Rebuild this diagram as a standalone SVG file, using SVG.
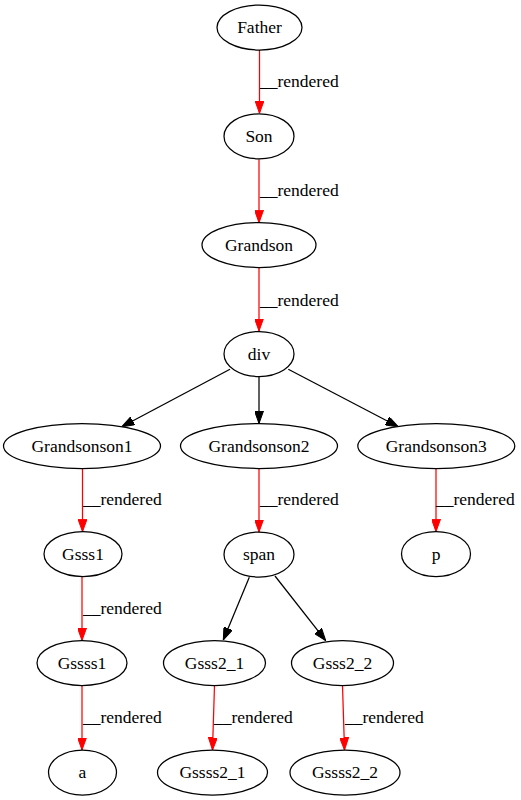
<svg xmlns="http://www.w3.org/2000/svg" width="521" height="800" viewBox="0 0 521 800">
<style>
.n ellipse{fill:#fff;stroke:#000;stroke-width:1.25}
text{font-family:"Liberation Serif","Times New Roman",serif;font-size:17.5px;fill:#000}
.n text{text-anchor:middle}
.e{fill:none;stroke-width:1.25}
.r{stroke:#f00;marker-end:url(#ar)}
.b{stroke:#000;marker-end:url(#ab)}
</style>
<defs>
<marker id="ar" markerUnits="userSpaceOnUse" viewBox="0 0 12.5 9" refX="12.5" refY="4.5" markerWidth="12.5" markerHeight="9" orient="auto"><path d="M0,0 L12.5,4.5 L0,9 z" fill="#f00" stroke="#f00" stroke-width="1"/></marker>
<marker id="ab" markerUnits="userSpaceOnUse" viewBox="0 0 12.5 9" refX="12.5" refY="4.5" markerWidth="12.5" markerHeight="9" orient="auto"><path d="M0,0 L12.5,4.5 L0,9 z" fill="#000" stroke="#000" stroke-width="1"/></marker>
</defs>
<rect width="521" height="800" fill="#fff"/>
<g id="connectors">
<path class="e r" d="M259.5,50 L259.5,113.3"/>
<path class="e r" d="M259,159.3 L259,222.7"/>
<path class="e r" d="M259,267.7 L259,331"/>
<path class="e b" d="M230,369.3 L121.7,426.7"/>
<path class="e b" d="M259,376.5 L259,423.5"/>
<path class="e b" d="M288.3,369.3 L398.3,426.7"/>
<path class="e r" d="M82.5,468.5 L82.5,531.7"/>
<path class="e r" d="M259,468.5 L259,532"/>
<path class="e r" d="M436,468.5 L436,531.7"/>
<path class="e r" d="M82,576.5 L82,640.5"/>
<path class="e b" d="M249.3,577.3 L223.3,640"/>
<path class="e b" d="M275,576 L325.7,640.7"/>
<path class="e r" d="M82,685 L82,750"/>
<path class="e r" d="M214.5,685 L212.5,750"/>
<path class="e r" d="M342.5,685 L344.5,750"/>
<text x="260" y="87">__rendered</text>
<text x="260" y="196">__rendered</text>
<text x="260" y="306">__rendered</text>
<text x="83" y="505">__rendered</text>
<text x="260" y="505">__rendered</text>
<text x="436" y="505">__rendered</text>
<text x="83" y="614">__rendered</text>
<text x="83" y="723">__rendered</text>
<text x="214" y="723">__rendered</text>
<text x="345" y="723">__rendered</text>
</g>
<g id="Father" class="n"><ellipse cx="259.5" cy="27.5" rx="42.5" ry="22.5"/><text x="259.5" y="33">Father</text></g>
<g id="Son" class="n"><ellipse cx="259" cy="136.3" rx="35" ry="22.5"/><text x="259" y="141.8">Son</text></g>
<g id="Grandson" class="n"><ellipse cx="259" cy="245" rx="57" ry="22.5"/><text x="259" y="250.5">Grandson</text></g>
<g id="div" class="n"><ellipse cx="259" cy="354" rx="35" ry="22.5"/><text x="259" y="359.5">div</text></g>
<g id="Grandsonson1" class="n"><ellipse cx="82" cy="446" rx="78.5" ry="22.5"/><text x="82" y="451.5">Grandsonson1</text></g>
<g id="Grandsonson2" class="n"><ellipse cx="259" cy="446" rx="78.5" ry="22.5"/><text x="259" y="451.5">Grandsonson2</text></g>
<g id="Grandsonson3" class="n"><ellipse cx="436.3" cy="446" rx="78.5" ry="22.5"/><text x="436.3" y="451.5">Grandsonson3</text></g>
<g id="Gsss1" class="n"><ellipse cx="83" cy="554" rx="39" ry="22.5"/><text x="83" y="559.5">Gsss1</text></g>
<g id="span" class="n"><ellipse cx="259" cy="554.5" rx="35" ry="22.5"/><text x="259" y="560">span</text></g>
<g id="p" class="n"><ellipse cx="436" cy="554" rx="34.5" ry="22.5"/><text x="436" y="559.5">p</text></g>
<g id="Gssss1" class="n"><ellipse cx="82" cy="663" rx="45" ry="22.5"/><text x="82" y="668.5">Gssss1</text></g>
<g id="Gsss2_1" class="n"><ellipse cx="214.5" cy="663" rx="51" ry="22.5"/><text x="214.5" y="668.5">Gsss2_1</text></g>
<g id="Gsss2_2" class="n"><ellipse cx="342.5" cy="663" rx="51" ry="22.5"/><text x="342.5" y="668.5">Gsss2_2</text></g>
<g id="a" class="n"><ellipse cx="82.5" cy="772.5" rx="34" ry="22.5"/><text x="82.5" y="778">a</text></g>
<g id="Gssss2_1" class="n"><ellipse cx="212.5" cy="772.5" rx="55" ry="22.5"/><text x="212.5" y="778">Gssss2_1</text></g>
<g id="Gssss2_2" class="n"><ellipse cx="345" cy="772.5" rx="55" ry="22.5"/><text x="345" y="778">Gssss2_2</text></g>
</svg>
